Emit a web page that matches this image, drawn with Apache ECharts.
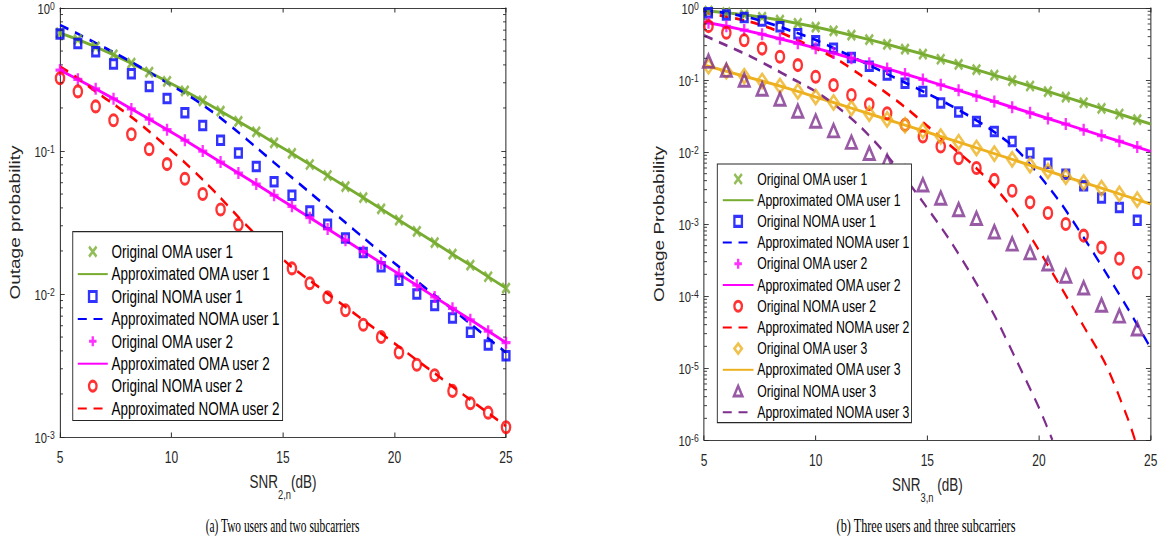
<!DOCTYPE html>
<html><head><meta charset="utf-8">
<script src="https://cdn.jsdelivr.net/npm/echarts@6/dist/echarts.min.js"></script>
<style>
html,body{margin:0;padding:0;background:#fff;overflow:hidden;width:1166px;height:548px;}
#wrap{width:1166px;height:548px;overflow:hidden;position:relative;background:#fff;}
#chart{width:1555px;height:548px;transform:scaleX(0.75);transform-origin:0 0;}
</style></head>
<body><div id="wrap"><div id="chart"></div></div>
<script>
// ---------- data: (a) two users, two subcarriers ----------
const xL = [5, 5.8, 6.6, 7.4, 8.2, 9.0, 9.8, 10.6, 11.4, 12.2, 13.0, 13.8, 14.6, 15.4, 16.2, 17.0, 17.8, 18.6, 19.4, 20.2, 21.0, 21.8, 22.6, 23.4, 24.2, 25.0];
const oma1L = [0.669, 0.602, 0.535, 0.471, 0.411, 0.356, 0.307, 0.263, 0.224, 0.190, 0.161, 0.136, 0.114, 0.0961, 0.0805, 0.0674, 0.0564, 0.0472, 0.0394, 0.0329, 0.0274, 0.0229, 0.0190, 0.0159, 0.0132, 0.0110];
const noma1SimL = [0.657, 0.565, 0.495, 0.406, 0.347, 0.283, 0.233, 0.185, 0.151, 0.119, 0.097, 0.078, 0.061, 0.049, 0.038, 0.0307, 0.0246, 0.0195, 0.0155, 0.0125, 0.0100, 0.0083, 0.0068, 0.0054, 0.0044, 0.0037];
const noma1ApproxL = [0.76, 0.66, 0.569, 0.49, 0.419, 0.355, 0.30, 0.253, 0.21, 0.170, 0.135, 0.106, 0.083, 0.0653, 0.0513, 0.0403, 0.0316, 0.0248, 0.0195, 0.0155, 0.0123, 0.0098, 0.0078, 0.0062, 0.0049, 0.0039];
const oma2L = [0.368, 0.317, 0.272, 0.232, 0.197, 0.167, 0.141, 0.119, 0.0998, 0.0836, 0.0701, 0.0587, 0.0490, 0.0410, 0.0342, 0.0285, 0.0238, 0.0198, 0.0165, 0.0138, 0.0115, 0.00953, 0.00794, 0.00661, 0.00550, 0.00457];
const noma2SimL = [0.323, 0.261, 0.205, 0.164, 0.131, 0.103, 0.081, 0.064, 0.050, 0.039, 0.0305, 0.0242, 0.0192, 0.0151, 0.0119, 0.0095, 0.0077, 0.0061, 0.0050, 0.0039, 0.0032, 0.0027, 0.0021, 0.00172, 0.00148, 0.00117];
const noma2ApproxL = [0.39, 0.324, 0.26, 0.213, 0.173, 0.137, 0.107, 0.083, 0.063, 0.047, 0.0345, 0.0259, 0.020, 0.0154, 0.01245, 0.01005, 0.00813, 0.00656, 0.0053, 0.00428, 0.00345, 0.00279, 0.00225, 0.00182, 0.00147, 0.00119];

// ---------- data: (b) three users, three subcarriers ----------
const xR = [5.2, 6.0, 6.8, 7.6, 8.4, 9.2, 10.0, 10.8, 11.6, 12.4, 13.2, 14.0, 14.8, 15.6, 16.4, 17.2, 18.0, 18.8, 19.6, 20.4, 21.2, 22.0, 22.8, 23.6, 24.4];
const xRfull = [5, 5.2, 6.0, 6.8, 7.6, 8.4, 9.2, 10.0, 10.8, 11.6, 12.4, 13.2, 14.0, 14.8, 15.6, 16.4, 17.2, 18.0, 18.8, 19.6, 20.4, 21.2, 22.0, 22.8, 23.6, 24.4, 25];
const oma1R = [0.917, 0.907, 0.861, 0.806, 0.744, 0.679, 0.611, 0.544, 0.480, 0.419, 0.364, 0.313, 0.268, 0.229, 0.194, 0.165, 0.139, 0.117, 0.0983, 0.0825, 0.0691, 0.0578, 0.0483, 0.0404, 0.0337, 0.0281, 0.0245];
const oma2R = [0.642, 0.625, 0.558, 0.493, 0.432, 0.375, 0.323, 0.277, 0.237, 0.201, 0.171, 0.144, 0.121, 0.102, 0.0856, 0.0718, 0.0600, 0.0502, 0.0419, 0.0350, 0.0292, 0.0244, 0.0203, 0.0169, 0.0141, 0.0117, 0.0102];
const oma3R = [0.160, 0.155, 0.132, 0.113, 0.097, 0.0825, 0.0695, 0.0582, 0.0488, 0.0407, 0.0340, 0.0283, 0.0236, 0.0197, 0.0164, 0.0137, 0.0114, 0.0095, 0.0079, 0.00656, 0.00546, 0.00454, 0.00378, 0.00315, 0.00262, 0.00218, 0.0019];
const noma1SimR = [0.86, 0.80, 0.74, 0.66, 0.55, 0.44, 0.35, 0.275, 0.205, 0.155, 0.117, 0.090, 0.069, 0.048, 0.036, 0.0265, 0.0192, 0.0140, 0.0097, 0.0070, 0.0049, 0.0034, 0.0023, 0.0017, 0.00113];
const noma2SimR = [0.56, 0.454, 0.356, 0.273, 0.21, 0.161, 0.111, 0.085, 0.062, 0.046, 0.0345, 0.0238, 0.0164, 0.0119, 0.0082, 0.0060, 0.0041, 0.0029, 0.0020, 0.00142, 0.00100, 0.00069, 0.00047, 0.00033, 0.00021];
const noma3SimR = [0.183, 0.137, 0.100, 0.075, 0.0545, 0.037, 0.027, 0.0198, 0.0137, 0.0096, 0.0075, 0.0052, 0.0035, 0.0023, 0.00159, 0.00120, 0.00078, 0.00053, 0.00040, 0.00028, 0.00019, 0.00013, 0.000075, 0.000053, 0.000035];
const xR1 = [5, 6, 7, 8, 9, 10, 11, 12, 13, 14, 15, 16, 17, 18, 19, 20, 21, 22, 23, 24, 25];
const noma1ApproxR = [0.93, 0.85, 0.74, 0.60, 0.47, 0.36, 0.26, 0.185, 0.13, 0.092, 0.065, 0.045, 0.030, 0.019, 0.0108, 0.0048, 0.0019, 0.00065, 0.00021, 0.000065, 0.000019];
const xR2 = [5, 6, 7, 8, 9, 10, 11, 12, 13, 14, 15, 16, 17, 18, 19, 20, 21, 22, 23, 24, 24.3];
const noma2ApproxR = [0.87, 0.76, 0.65, 0.52, 0.38, 0.275, 0.19, 0.118, 0.072, 0.042, 0.023, 0.0125, 0.0068, 0.0033, 0.00135, 0.00043, 0.00013, 0.000038, 0.000011, 0.0000019, 0.000001];
const xR3 = [5, 6, 7, 8, 9, 10, 11, 12, 13, 14, 15, 16, 17, 18, 19, 20, 20.6];
const noma3ApproxR = [0.417, 0.302, 0.219, 0.151, 0.102, 0.0692, 0.0417, 0.0224, 0.0105, 0.00437, 0.00166, 0.0006, 0.00019, 0.000054, 0.0000126, 0.0000028, 0.000001];

// ---------- ticks / labels ----------
const minorMantissa = [2, 3, 4, 5, 6, 7, 8, 9];
const decadesL = [0.001, 0.01, 0.1];
const decadesR = [0.000001, 0.00001, 0.0001, 0.001, 0.01, 0.1];
const namesL = ['Original OMA user 1', 'Approximated OMA user 1', 'Original NOMA user 1', 'Approximated NOMA user 1',
  'Original OMA user 2', 'Approximated OMA user 2', 'Original NOMA user 2', 'Approximated NOMA user 2'];
const namesR = namesL.concat(['Original OMA user 3', 'Approximated OMA user 3', 'Original NOMA user 3', 'Approximated NOMA user 3']);
const captionA = '(a) Two users and two subcarriers';
const captionB = '(b) Three users and three subcarriers';

// ---------- styling ----------
const FONT = '"Liberation Sans", Arial, Helvetica, sans-serif';
const SERIF = '"Liberation Serif", "Times New Roman", serif';
const AX = '#262626';
const GREEN = '#77AC30', BLUE = '#0000FF', MAG = '#FF00FF', RED = '#FF0000', YEL = '#EDB120', PUR = '#7E2F8E';
const X_SYM = 'path://M0,0L10,10M10,0L0,10';
const PLUS_SYM = 'path://M5,0L5,10M0,5L10,5';
const SQ_SYM = 'path://M0,0L10,0L10,10L0,10Z';
const CIRC_SYM = 'path://M10,5A5,5,0,1,1,0,5A5,5,0,1,1,10,5Z';
const DIAM_SYM = 'path://M5,0L10,5L5,10L0,5Z';
const TRI_SYM = 'path://M5,0L10,9L0,9Z';
const CLEAR = 'rgba(0,0,0,0)';

const pairs = (xs, ys) => xs.map((x, i) => [x, ys[i]]);
const minorVals = decs => { const o = []; decs.forEach(d => minorMantissa.forEach(m => o.push([5, d * m]))); return o; };

function scatterS(name, xs, ys, symbol, size, color, g) {
  return { name, type: 'scatter', xAxisIndex: g * 2, yAxisIndex: g * 2, data: pairs(xs, ys),
    symbol, symbolSize: size, symbolKeepAspect: false, clip: false, silent: true, z: 4,
    itemStyle: { color: CLEAR, borderColor: color, borderWidth: 3.1 } };
}
function lineS(name, xs, ys, color, dashed, g) {
  return { name, type: 'line', xAxisIndex: g * 2, yAxisIndex: g * 2, data: pairs(xs, ys),
    symbol: 'none', showSymbol: false, smooth: dashed ? 0.3 : false, silent: true, z: 3,
    lineStyle: { color, width: dashed ? 2.8 : 3, type: dashed ? [12, 9] : 'solid' },
    itemStyle: { color: CLEAR, borderColor: CLEAR, borderWidth: 0 } };
}
function minorTickSeries(g, decs) {
  return { type: 'custom', xAxisIndex: g * 2, yAxisIndex: g * 2, silent: true, z: 6,
    data: minorVals(decs), encode: { x: 0, y: 1 },
    renderItem: function (params, api) {
      const v = api.value(1);
      const a = api.coord([5, v]);
      const b = api.coord([25, v]);
      return { type: 'group', children: [
        { type: 'line', shape: { x1: a[0], y1: a[1], x2: a[0] + 4, y2: a[1] }, style: { stroke: AX, lineWidth: 1 } },
        { type: 'line', shape: { x1: b[0], y1: b[1], x2: b[0] - 4, y2: b[1] }, style: { stroke: AX, lineWidth: 1 } }
      ] };
    } };
}

const supRich = {
  b: { fontFamily: FONT, fontSize: 15, color: AX, lineHeight: 16, verticalAlign: 'bottom' },
  s: { fontFamily: FONT, fontSize: 11.5, color: AX, lineHeight: 12, padding: [0, 0, 7, 0], verticalAlign: 'top' }
};
const nameRich = {
  m: { fontFamily: FONT, fontSize: 18, color: AX, lineHeight: 20, verticalAlign: 'top' },
  sub: { fontFamily: FONT, fontSize: 12.5, color: AX, lineHeight: 13, padding: [15, 0, 0, 0], verticalAlign: 'top' }
};

function xAx(g, bottom, name) {
  const o = { gridIndex: g, type: 'value', min: 5, max: 25, interval: 5, position: bottom ? 'bottom' : 'top',
    axisLine: { show: true, onZero: false, lineStyle: { color: AX, width: 1 } },
    axisTick: { show: true, inside: true, length: 4.5, lineStyle: { color: AX, width: 1.3 } },
    axisLabel: { show: bottom, margin: 12, fontFamily: FONT, fontSize: 16, color: AX },
    splitLine: { show: false } };
  if (bottom) {
    o.name = name; o.nameLocation = 'middle'; o.nameGap = 36;
    o.nameTextStyle = { fontFamily: FONT, fontSize: 18, color: AX, rich: nameRich };
  }
  return o;
}
function yAx(g, left, minV, splits, name) {
  const o = { gridIndex: g, type: 'log', logBase: 10, min: minV, max: 1, splitNumber: splits,
    position: left ? 'left' : 'right',
    axisLine: { show: true, onZero: false, lineStyle: { color: AX, width: 1.33 } },
    axisTick: { show: true, inside: true, length: 6.3, lineStyle: { color: AX, width: 1 } },
    axisLabel: { show: left, margin: 7, formatter: v => '{b|10}{s|' + Math.round(Math.log10(v)) + '}', rich: supRich },
    splitLine: { show: false }, minorTick: { show: false } };
  if (left) {
    o.name = name; o.nameLocation = 'middle'; o.nameRotate = 90; o.nameGap = 50;
    o.nameTextStyle = { fontFamily: FONT, fontSize: 19, color: AX };
  }
  return o;
}

const series = [
  // (a)
  lineS(namesL[1], xL, oma1L, GREEN, false, 0),
  lineS(namesL[3], xL, noma1ApproxL, BLUE, true, 0),
  lineS(namesL[5], xL, oma2L, MAG, false, 0),
  lineS(namesL[7], xL, noma2ApproxL, RED, true, 0),
  scatterS(namesL[0], xL, oma1L, X_SYM, [10, 10], GREEN, 0),
  scatterS(namesL[2], xL, noma1SimL, SQ_SYM, [9, 8.5], BLUE, 0),
  scatterS(namesL[4], xL, oma2L, PLUS_SYM, [12, 12], MAG, 0),
  scatterS(namesL[6], xL, noma2SimL, CIRC_SYM, [11, 11], RED, 0),
  minorTickSeries(0, decadesL),
  // (b)
  lineS(namesR[1], xRfull, oma1R, GREEN, false, 1),
  lineS(namesR[3], xR1, noma1ApproxR, BLUE, true, 1),
  lineS(namesR[5], xRfull, oma2R, MAG, false, 1),
  lineS(namesR[7], xR2, noma2ApproxR, RED, true, 1),
  lineS(namesR[9], xRfull, oma3R, YEL, false, 1),
  lineS(namesR[11], xR3, noma3ApproxR, PUR, true, 1),
  scatterS(namesR[0], xR, oma1R.slice(1, 26), X_SYM, [10, 10], GREEN, 1),
  scatterS(namesR[2], xR, noma1SimR, SQ_SYM, [9, 8.5], BLUE, 1),
  scatterS(namesR[4], xR, oma2R.slice(1, 26), PLUS_SYM, [12, 12], MAG, 1),
  scatterS(namesR[6], xR, noma2SimR, CIRC_SYM, [11, 11], RED, 1),
  scatterS(namesR[8], xR, oma3R.slice(1, 26), DIAM_SYM, [13, 14], YEL, 1),
  scatterS(namesR[10], xR, noma3SimR, TRI_SYM, [14, 12.5], PUR, 1),
  minorTickSeries(1, decadesR)
];

const legendBase = { orient: 'vertical', selectedMode: false, borderColor: AX, borderWidth: 1.2,
  backgroundColor: '#fff', itemWidth: 40, itemHeight: 10, z: 10,
  itemStyle: { borderWidth: 'inherit' } };

const captionStyle = { fontSize: 19, fontFamily: SERIF, fill: '#000', align: 'center', verticalAlign: 'middle', textAlign: 'center', textVerticalAlign: 'middle' };

const option = {
  animation: false,
  backgroundColor: '#fff',
  grid: [
    { left: 80, top: 6, width: 594.7, height: 431, containLabel: false },
    { left: 938.7, top: 6, width: 595.5, height: 434, containLabel: false }
  ],
  xAxis: [
    xAx(0, true, '{m|SNR}{sub|2,n}{m|(dB)}'), xAx(0, false),
    xAx(1, true, '{m|SNR}{sub|3,n}{m| (dB)}'), xAx(1, false)
  ],
  yAxis: [
    yAx(0, true, 0.001, 3, 'Outage probability'), yAx(0, false, 0.001, 3),
    yAx(1, true, 0.000001, 6, 'Outage Probability'), yAx(1, false, 0.000001, 6)
  ],
  legend: [
    Object.assign({}, legendBase, { left: 97, top: 231.7, padding: [10, 3, 2, 5.7], itemGap: 2.4,
      textStyle: { fontFamily: FONT, fontSize: 18, color: '#000', lineHeight: 20 }, data: namesL }),
    Object.assign({}, legendBase, { left: 956.4, top: 164, padding: [6, 2, 1.5, 6.3], itemGap: 3.2, itemWidth: 41,
      textStyle: { fontFamily: FONT, fontSize: 16.3, color: '#000', lineHeight: 18 }, data: namesR })
  ],
  graphic: [
    { type: 'text', x: 376.7, y: 525, scaleX: 0.8, silent: true, style: Object.assign({ text: captionA }, captionStyle) },
    { type: 'text', x: 1234.7, y: 525, scaleX: 0.86, silent: true, style: Object.assign({ text: captionB }, captionStyle) }
  ],
  series
};

const chart = echarts.init(document.getElementById('chart'), null, { renderer: 'svg' });
chart.setOption(option);
</script>
</body></html>
